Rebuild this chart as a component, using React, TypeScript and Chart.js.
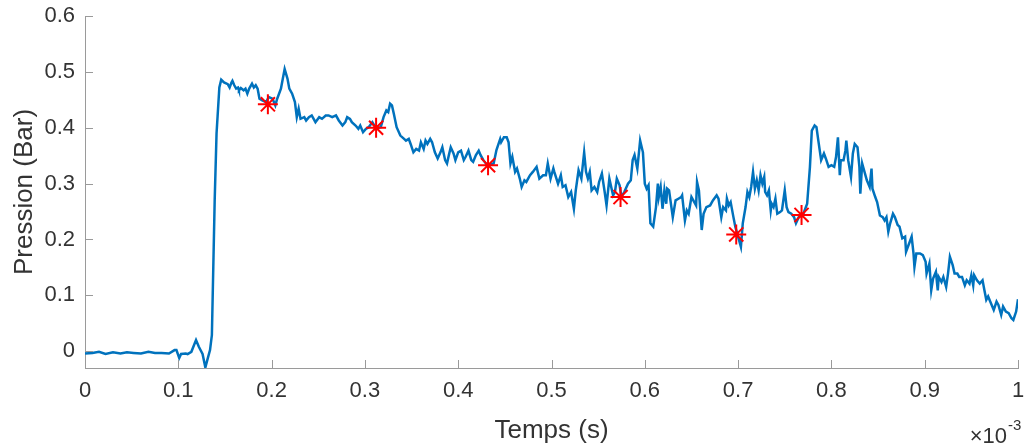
import React, { useEffect, useRef } from "react";
import { Chart, registerables } from "chart.js";

Chart.register(...registerables);

// Time axis in units of 1e-3 s
const timeMs: number[] = [
  0, 0.008, 0.015, 0.022, 0.03, 0.038, 0.045, 0.052, 0.06, 0.068, 0.075, 0.082, 0.09, 0.096,
  0.098, 0.101, 0.103, 0.108, 0.11, 0.114, 0.119, 0.122, 0.126, 0.129, 0.132, 0.134, 0.136,
  0.139, 0.141, 0.144, 0.146, 0.149, 0.153, 0.155, 0.157, 0.158, 0.16, 0.162, 0.164, 0.165,
  0.167, 0.17, 0.172, 0.174, 0.176, 0.179, 0.181, 0.183, 0.185, 0.187, 0.19, 0.194, 0.197,
  0.201, 0.204, 0.206, 0.21, 0.212, 0.214, 0.217, 0.219, 0.222, 0.225, 0.227, 0.229, 0.231,
  0.235, 0.237, 0.24, 0.243, 0.247, 0.251, 0.254, 0.258, 0.261, 0.265, 0.269, 0.272, 0.276,
  0.279, 0.281, 0.284, 0.286, 0.29, 0.293, 0.295, 0.298, 0.301, 0.304, 0.308, 0.312, 0.317,
  0.32, 0.323, 0.325, 0.327, 0.329, 0.331, 0.334, 0.338, 0.342, 0.344, 0.347, 0.349, 0.352,
  0.355, 0.358, 0.36, 0.363, 0.365, 0.367, 0.37, 0.372, 0.375, 0.378, 0.381, 0.383, 0.386,
  0.388, 0.39, 0.392, 0.395, 0.397, 0.4, 0.403, 0.406, 0.408, 0.411, 0.414, 0.416, 0.419,
  0.422, 0.424, 0.427, 0.431, 0.438, 0.441, 0.445, 0.446, 0.449, 0.452, 0.454, 0.456, 0.458,
  0.461, 0.463, 0.466, 0.468, 0.471, 0.473, 0.477, 0.48, 0.484, 0.487, 0.491, 0.494, 0.496,
  0.499, 0.502, 0.503, 0.507, 0.51, 0.512, 0.515, 0.518, 0.521, 0.524, 0.526, 0.529, 0.532,
  0.535, 0.537, 0.539, 0.541, 0.543, 0.546, 0.549, 0.551, 0.554, 0.557, 0.559, 0.562, 0.564,
  0.566, 0.568, 0.57, 0.573, 0.575, 0.578, 0.582, 0.585, 0.587, 0.589, 0.592, 0.595, 0.598,
  0.6, 0.602, 0.604, 0.606, 0.609, 0.612, 0.614, 0.615, 0.617, 0.619, 0.621, 0.623, 0.624,
  0.626, 0.63, 0.633, 0.636, 0.639, 0.64, 0.643, 0.645, 0.647, 0.65, 0.652, 0.655, 0.656,
  0.658, 0.661, 0.663, 0.666, 0.67, 0.673, 0.677, 0.679, 0.682, 0.684, 0.687, 0.688, 0.69,
  0.692, 0.695, 0.697, 0.699, 0.703, 0.705, 0.708, 0.71, 0.712, 0.714, 0.716, 0.718, 0.72,
  0.722, 0.724, 0.726, 0.728, 0.729, 0.731, 0.733, 0.735, 0.736, 0.738, 0.74, 0.742, 0.745,
  0.747, 0.75, 0.752, 0.754, 0.757, 0.76, 0.762, 0.765, 0.77, 0.774, 0.777, 0.779, 0.782,
  0.784, 0.786, 0.789, 0.792, 0.794, 0.797, 0.8, 0.803, 0.805, 0.807, 0.809, 0.81, 0.813,
  0.815, 0.816, 0.818, 0.821, 0.823, 0.825, 0.828, 0.83, 0.831, 0.833, 0.836, 0.838, 0.841,
  0.843, 0.844, 0.847, 0.849, 0.852, 0.855, 0.857, 0.859, 0.861, 0.863, 0.866, 0.868, 0.871,
  0.873, 0.876, 0.879, 0.88, 0.882, 0.884, 0.886, 0.888, 0.889, 0.891, 0.895, 0.898, 0.901,
  0.902, 0.905, 0.907, 0.909, 0.912, 0.914, 0.915, 0.918, 0.92, 0.923, 0.925, 0.927, 0.93,
  0.932, 0.935, 0.937, 0.94, 0.943, 0.945, 0.948, 0.95, 0.952, 0.953, 0.956, 0.959, 0.962,
  0.964, 0.966, 0.968, 0.971, 0.974, 0.977, 0.979, 0.982, 0.984, 0.987, 0.99, 0.993, 0.995,
  0.998, 1.0,
];

// Pressure in bar
const pressure: number[] = [
  -0.004, -0.003, -0.001, -0.005, -0.002, -0.004, -0.002, -0.003, -0.004, -0.001, -0.003, -0.003, -0.004, 0.002,
  0.002, -0.012, -0.005, -0.004, -0.005, -0.001, 0.02, 0.008, -0.005, -0.029, -0.01, 0.002, 0.029,
  0.27, 0.39, 0.472, 0.486, 0.481, 0.478, 0.472, 0.481, 0.484, 0.476, 0.47, 0.472, 0.467,
  0.471, 0.467, 0.47, 0.461, 0.47, 0.479, 0.472, 0.476, 0.47, 0.452, 0.449, 0.446, 0.455,
  0.452, 0.44, 0.452, 0.47, 0.4875, 0.505, 0.488, 0.47, 0.461, 0.446, 0.419, 0.434, 0.416,
  0.419, 0.413, 0.419, 0.422, 0.41, 0.419, 0.416, 0.422, 0.422, 0.419, 0.422, 0.413, 0.404,
  0.41, 0.419, 0.416, 0.41, 0.404, 0.398, 0.404, 0.392, 0.398, 0.401, 0.41, 0.399, 0.401,
  0.419, 0.431, 0.428, 0.443, 0.44, 0.425, 0.401, 0.386, 0.38, 0.377, 0.38, 0.371, 0.356,
  0.362, 0.359, 0.374, 0.362, 0.377, 0.371, 0.38, 0.374, 0.356, 0.345, 0.356, 0.365, 0.342,
  0.336, 0.351, 0.365, 0.354, 0.342, 0.356, 0.359, 0.342, 0.348, 0.359, 0.342, 0.339, 0.351,
  0.359, 0.351, 0.342, 0.333, 0.336, 0.36, 0.38, 0.374, 0.383, 0.383, 0.374, 0.336, 0.348,
  0.321, 0.327, 0.309, 0.294, 0.306, 0.303, 0.315, 0.321, 0.33, 0.309, 0.315, 0.315, 0.336,
  0.309, 0.327, 0.321, 0.3, 0.315, 0.294, 0.297, 0.276, 0.285, 0.255, 0.288, 0.324, 0.309,
  0.356, 0.321, 0.309, 0.321, 0.288, 0.294, 0.285, 0.303, 0.318, 0.285, 0.261, 0.309, 0.294,
  0.279, 0.285, 0.309, 0.297, 0.276, 0.285, 0.3, 0.306, 0.342, 0.351, 0.327, 0.377, 0.356,
  0.3, 0.291, 0.297, 0.229, 0.223, 0.258, 0.3, 0.276, 0.294, 0.255, 0.288, 0.264, 0.291,
  0.288, 0.24, 0.27, 0.273, 0.276, 0.279, 0.234, 0.252, 0.246, 0.276, 0.27, 0.261, 0.303,
  0.288, 0.217, 0.246, 0.258, 0.261, 0.27, 0.279, 0.273, 0.24, 0.258, 0.252, 0.273, 0.261,
  0.267, 0.24, 0.223, 0.211, 0.187, 0.229, 0.258, 0.285, 0.276, 0.294, 0.321, 0.291, 0.306,
  0.288, 0.315, 0.3, 0.312, 0.285, 0.279, 0.288, 0.252, 0.264, 0.258, 0.273, 0.246, 0.249,
  0.252, 0.288, 0.258, 0.249, 0.246, 0.24, 0.229, 0.24, 0.246, 0.264, 0.33, 0.395, 0.404,
  0.401, 0.377, 0.342, 0.354, 0.345, 0.33, 0.333, 0.33, 0.348, 0.383, 0.315, 0.342, 0.342,
  0.359, 0.377, 0.342, 0.312, 0.354, 0.371, 0.365, 0.33, 0.282, 0.336, 0.318, 0.306, 0.294,
  0.327, 0.291, 0.276, 0.267, 0.243, 0.24, 0.234, 0.24, 0.214, 0.229, 0.246, 0.24, 0.226,
  0.223, 0.202, 0.205, 0.178, 0.187, 0.196, 0.205, 0.175, 0.151, 0.175, 0.175, 0.172, 0.16,
  0.139, 0.157, 0.109, 0.13, 0.142, 0.109, 0.133, 0.124, 0.133, 0.115, 0.139, 0.169, 0.154,
  0.139, 0.139, 0.133, 0.133, 0.118, 0.127, 0.121, 0.136, 0.118, 0.136, 0.127, 0.121, 0.127,
  0.109, 0.092, 0.098, 0.086, 0.074, 0.089, 0.083, 0.065, 0.08, 0.071, 0.068, 0.059, 0.056,
  0.071, 0.093,
];

// Red asterisk markers
const markerTime: number[] = [0.196, 0.312, 0.432, 0.574, 0.698, 0.768];
const markerPressure: number[] = [0.442, 0.4, 0.333, 0.276, 0.209, 0.244];

// Axis ticks
const xTicks: number[] = [0, 0.1, 0.2, 0.3, 0.4, 0.5, 0.6, 0.7, 0.8, 0.9, 1];
const yTicks: number[] = [0, 0.1, 0.2, 0.3, 0.4, 0.5, 0.6];
const xTickLabels: string[] = ["0", "0.1", "0.2", "0.3", "0.4", "0.5", "0.6", "0.7", "0.8", "0.9", "1"];
const yTickLabels: string[] = ["0", "0.1", "0.2", "0.3", "0.4", "0.5", "0.6"];

const xTitle = "Temps (s)";
const yTitle = "Pression (Bar)";
const exponentBase = "\u00d710";
const exponentPower = "-3";

const FONT = '"Liberation Sans", Arial, sans-serif';
const AXIS_COLOR = "#9a9a9a";
const TEXT_COLOR = "#333333";
const LINE_COLOR = "#0072BD";

const axisDecor = {
  id: "axisDecor",
  afterDraw(chart: any) {
    const { ctx, chartArea, scales } = chart;
    const xs = scales.x;
    const ys = scales.y;
    const TL = 8;
    ctx.save();
    ctx.strokeStyle = AXIS_COLOR;
    ctx.lineWidth = 1;
    xs.ticks.forEach((t: any) => {
      const px = Math.round(xs.getPixelForValue(t.value)) + 0.5;
      ctx.beginPath();
      ctx.moveTo(px, chartArea.bottom);
      ctx.lineTo(px, chartArea.bottom - TL);
      ctx.stroke();
    });
    ys.ticks.forEach((t: any) => {
      const py = Math.round(ys.getPixelForValue(t.value)) + 0.5;
      ctx.beginPath();
      ctx.moveTo(chartArea.left, py);
      ctx.lineTo(chartArea.left + TL, py);
      ctx.stroke();
    });
    // exponent label
    ctx.fillStyle = TEXT_COLOR;
    ctx.textBaseline = "alphabetic";
    ctx.textAlign = "right";
    ctx.font = `22px ${FONT}`;
    const baseRight = chartArea.right - 11;
    const baseY = chart.height - 3;
    ctx.fillText(exponentBase, baseRight, baseY);
    ctx.textAlign = "left";
    ctx.font = `15px ${FONT}`;
    ctx.fillText(exponentPower, baseRight + 1, baseY - 13);
    ctx.restore();
  },
};

export default function App() {
  const canvasRef = useRef<HTMLCanvasElement | null>(null);

  useEffect(() => {
    document.body.style.margin = "0";
    const canvas = canvasRef.current;
    if (!canvas) return;
    const lineData = timeMs.map((t, i) => ({ x: t, y: pressure[i] }));
    const markerData = markerTime.map((t, i) => ({ x: t, y: markerPressure[i] }));

    const chart = new Chart(canvas, {
      type: "line",
      data: {
        datasets: [
          {
            label: "markers",
            data: markerData,
            showLine: false,
            pointStyle: "star",
            pointRadius: 10,
            pointBorderWidth: 2,
            pointBorderColor: "#ff0000",
            pointBackgroundColor: "#ff0000",
            order: 0,
          },
          {
            label: "pression",
            data: lineData,
            borderColor: LINE_COLOR,
            borderWidth: 2.5,
            pointRadius: 0,
            tension: 0,
            fill: false,
            order: 1,
          },
        ],
      },
      options: {
        responsive: false,
        animation: false,
        events: [],
        layout: { padding: { left: 0, right: 5, top: 16, bottom: 0 } },
        plugins: {
          legend: { display: false },
          tooltip: { enabled: false },
        },
        scales: {
          x: {
            type: "linear",
            min: 0,
            max: 1,
            afterBuildTicks: (scale: any) => {
              scale.ticks = xTicks.map((v) => ({ value: v }));
            },
            afterFit: (scale: any) => {
              scale.height = 78;
              scale.paddingLeft = 0;
              scale.paddingRight = 0;
            },
            ticks: {
              padding: 10,
              color: TEXT_COLOR,
              font: { family: FONT, size: 22 },
              maxRotation: 0,
              autoSkip: false,
              callback: (v: any) => {
                const i = xTicks.findIndex((t) => Math.abs(t - Number(v)) < 1e-9);
                return i >= 0 ? xTickLabels[i] : "";
              },
            },
            grid: { display: true, drawOnChartArea: false, drawTicks: false },
            border: { display: true, color: AXIS_COLOR, width: 1 },
            title: {
              display: true,
              text: xTitle,
              color: TEXT_COLOR,
              font: { family: FONT, size: 26 },
              padding: { top: 0, bottom: 0 },
            },
          },
          y: {
            type: "linear",
            min: -0.03,
            max: 0.6,
            afterBuildTicks: (scale: any) => {
              scale.ticks = yTicks.map((v) => ({ value: v }));
            },
            afterFit: (scale: any) => {
              scale.width = 85;
              scale.paddingTop = 0;
              scale.paddingBottom = 0;
            },
            ticks: {
              padding: 10,
              color: TEXT_COLOR,
              font: { family: FONT, size: 22 },
              autoSkip: false,
              callback: (v: any) => {
                const i = yTicks.findIndex((t) => Math.abs(t - Number(v)) < 1e-9);
                return i >= 0 ? yTickLabels[i] : "";
              },
            },
            grid: { display: true, drawOnChartArea: false, drawTicks: false },
            border: { display: true, color: AXIS_COLOR, width: 1 },
            title: {
              display: true,
              text: yTitle,
              color: TEXT_COLOR,
              font: { family: FONT, size: 26 },
              padding: { top: 9, bottom: 0 },
            },
          },
        },
      },
      plugins: [axisDecor],
    });
    return () => chart.destroy();
  }, []);

  return (
    <div style={{ width: 1030, height: 446, background: "#fff" }}>
      <canvas ref={canvasRef} width={1030} height={446} />
    </div>
  );
}
